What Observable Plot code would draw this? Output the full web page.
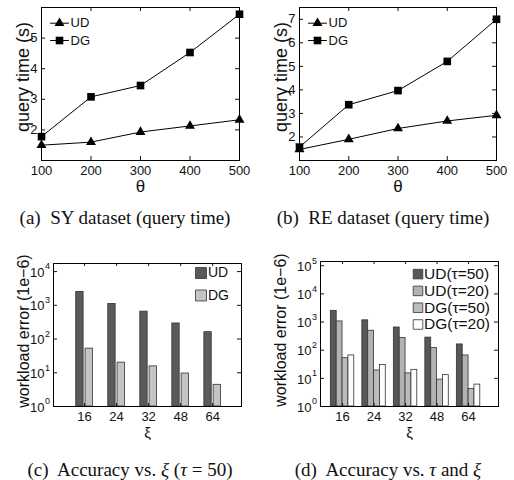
<!DOCTYPE html>
<html><head><meta charset="utf-8">
<script src="https://cdn.jsdelivr.net/npm/d3@7"></script>
<script src="https://cdn.jsdelivr.net/npm/@observablehq/plot@0.6"></script>
<style>
body{margin:0;background:#fff;}
#root{position:relative;width:514px;height:480px;overflow:hidden;background:#fff}
.panel{position:absolute;width:257px}
.cap{position:absolute;font-family:"Liberation Serif","Times New Roman",serif;font-size:19px;line-height:19px;white-space:pre;transform:translateX(-50%);color:#111}
</style></head><body><div id="root"></div>
<script>
// ---- data ----
const theta = [100, 200, 300, 400, 500];
const syUD = [1.50, 1.60, 1.93, 2.13, 2.33];
const syDG = [1.78, 3.08, 3.45, 4.53, 5.78];
const reUD = [1.47, 1.90, 2.36, 2.68, 2.92];
const reDG = [1.57, 3.37, 3.97, 5.21, 7.00];
const xi = ["16", "24", "32", "48", "64"];
const accUD = [2500, 1100, 650, 290, 160];
const accDG = [52, 20, 15.5, 9.5, 4.4];
const udTau50 = [2500, 1150, 640, 280, 160];
const udTau20 = [1050, 490, 270, 120, 65];
const dgTau50 = [52, 19, 15, 9, 4.2];
const dgTau20 = [65, 30, 20, 13, 6];
const lineNames = ["UD", "DG"];
const lineSymbols = ["triangle", "square"];
const namesC = ["UD", "DG"];
const namesD = ["UD(τ=50)", "UD(τ=20)", "DG(τ=50)", "DG(τ=20)"];

const root = document.getElementById("root");
const FONT = "Liberation Sans, Arial, Helvetica, sans-serif";

function place(el, left, top) {
  const d = document.createElement("div");
  d.className = "panel";
  d.style.left = left + "px";
  d.style.top = top + "px";
  d.appendChild(el);
  root.appendChild(d);
}
function caption(html, cx, cy) {
  const d = document.createElement("div");
  d.className = "cap";
  d.style.left = cx + "px";
  d.style.top = (cy - 10) + "px";
  d.innerHTML = html;
  root.appendChild(d);
}
const seg = {draw(ctx, l) { ctx.moveTo(0, 0); ctx.lineTo(0, -l); }};

function linePanel({ud, dg, yDomain, yTicks, mL, mR}) {
  const W = 257, H = 200, mT = 7, mB = 40;
  const fh = H - mT - mB, fw = W - mL - mR;
  const rows = theta.map((t, i) => ({theta: t, UD: ud[i], DG: dg[i]}));
  const legendMarks = lineNames.map((name, k) => {
    const dy = 15.7 + k * 17.3;
    return [
      Plot.vector([name], {frameAnchor: "top-left", dx: 18, dy, length: 18, rotate: 90, anchor: "middle", shape: seg, stroke: "#000", strokeWidth: 1}),
      Plot.dot([name], {frameAnchor: "top-left", dx: 18, dy, symbol: lineSymbols[k], r: k ? 4.3 : 3.7, fill: "#000"}),
      Plot.text([name], {text: d => d, frameAnchor: "top-left", dx: 29, dy, textAnchor: "start", lineAnchor: "middle", fontSize: 13})
    ];
  }).flat();
  return Plot.plot({
    width: W, height: H, marginLeft: mL, marginRight: mR, marginTop: mT, marginBottom: mB,
    style: {fontFamily: FONT, fontSize: "13px", color: "#111", background: "transparent"},
    x: {domain: [100, 500]},
    y: {domain: yDomain},
    marks: [
      Plot.axisX(theta, {tickSize: 0, tickPadding: 5, label: null, fontSize: 13}),
      Plot.axisY(yTicks, {tickSize: 0, tickPadding: 4, label: null, fontSize: 13}),
      Plot.tickX(theta, {x: d => d, insetTop: fh - 4}),
      Plot.tickX(theta, {x: d => d, insetBottom: fh - 4}),
      Plot.tickY(yTicks, {y: d => d, insetRight: fw - 4}),
      Plot.tickY(yTicks, {y: d => d, insetLeft: fw - 4}),
      Plot.line(rows, {x: "theta", y: "UD", stroke: "#000", strokeWidth: 1}),
      Plot.line(rows, {x: "theta", y: "DG", stroke: "#000", strokeWidth: 1}),
      Plot.dot(rows, {x: "theta", y: "UD", symbol: "triangle", r: 3.7, fill: "#000"}),
      Plot.dot(rows, {x: "theta", y: "DG", symbol: "square", r: 4.3, fill: "#000"}),
      Plot.frame({stroke: "#000", strokeWidth: 1}),
      Plot.text(["θ"], {text: d => d, frameAnchor: "bottom", dy: 26, fontSize: 17, lineAnchor: "middle"}),
      Plot.text(["query time (s)"], {text: d => d, frameAnchor: "left", dx: -18, dy: -7, rotate: -90, fontSize: 18, textAnchor: "middle", lineAnchor: "middle"}),
      ...legendMarks
    ]
  });
}

function barPanel({series, names, fills, yDomain, yTicks, mL, mT, mR, xDomain, barW, legend}) {
  const W = 257, H = 200, mB = H - 166;
  const fh = H - mT - mB, fw = W - mL - mR;
  const n = series.length;
  const rows = [];
  series.forEach((s, k) => s.forEach((v, i) => {
    const c = i + 1 + (k - (n - 1) / 2) * legend.step;
    rows.push({x1: c - barW / 2, x2: c + barW / 2, v, k});
  }));
  const idx = xi.map((d, i) => i + 1);
  const legendMarks = names.map((name, k) => [
    Plot.dot([name], {frameAnchor: "top-left", dx: legend.dx, dy: legend.dy + k * legend.gap, symbol: "square", r: legend.r, fill: fills[k], stroke: "#333", strokeWidth: 0.8}),
    Plot.text([name], {text: d => d, frameAnchor: "top-left", dx: legend.dx + legend.tx, dy: legend.dy + k * legend.gap, textAnchor: "start", lineAnchor: "middle", fontSize: legend.fs})
  ]).flat();
  return Plot.plot({
    width: W, height: H, marginLeft: mL, marginRight: mR, marginTop: mT, marginBottom: mB,
    style: {fontFamily: FONT, fontSize: "13px", color: "#111", background: "transparent"},
    x: {domain: xDomain, axis: null},
    y: {type: "log", domain: yDomain, axis: null},
    marks: [
      Plot.rectY(rows, {x1: "x1", x2: "x2", y1: 1, y2: "v", fill: d => fills[d.k], stroke: "#333", strokeWidth: 0.8}),
      Plot.tickX(idx, {x: d => d, insetTop: fh - 3}),
      Plot.tickX(idx, {x: d => d, insetBottom: fh - 3}),
      Plot.tickY(yTicks, {y: d => d, insetRight: fw - 4}),
      Plot.tickY(yTicks, {y: d => d, insetLeft: fw - 4}),
      Plot.frame({stroke: "#000", strokeWidth: 1}),
      Plot.text(xi, {text: d => d, x: (d, i) => i + 1, frameAnchor: "bottom", dy: 10.5, lineAnchor: "middle", fontSize: 13}),
      Plot.text(yTicks, {y: d => d, text: () => "10", frameAnchor: "left", textAnchor: "end", dx: -9, dy: 1, fontSize: 13, lineAnchor: "middle"}),
      Plot.text(yTicks, {y: d => d, text: d => String(Math.round(Math.log10(d))), frameAnchor: "left", textAnchor: "end", dx: -3.5, dy: -5, fontSize: 9, lineAnchor: "middle"}),
      Plot.text(["ξ"], {text: d => d, frameAnchor: "bottom", dy: 27, fontSize: 15, lineAnchor: "middle"}),
      Plot.text(["workload error (1e−6)"], {text: d => d, frameAnchor: "left", dx: -(mL - 23), dy: -4, rotate: -90, fontSize: 16, textAnchor: "middle", lineAnchor: "middle"}),
      ...legendMarks
    ]
  });
}

place(linePanel({ud: syUD, dg: syDG, yDomain: [1, 6], yTicks: [2, 3, 4, 5], mL: 41, mR: 18}), 0, 0);
place(linePanel({ud: reUD, dg: reDG, yDomain: [1, 7.5], yTicks: [2, 3, 4, 5, 6, 7], mL: 42, mR: 18}), 257, 0);
place(barPanel({series: [accUD, accDG], names: namesC, fills: ["#5a5a5a", "#c4c4c4"],
  yDomain: [1, Math.pow(10, 4.24)], yTicks: [1, 10, 100, 1000, 10000], mL: 53, mT: 23, mR: 16,
  xDomain: [0.03, 5.9], barW: 0.23, legend: {step: 0.29, dx: 147.5, dy: 9.5, gap: 22.5, r: 6.2, tx: 7, fs: 14}}), 0, 240);
place(barPanel({series: [udTau50, udTau20, dgTau50, dgTau20], names: namesD, fills: ["#585858", "#b2b2b2", "#bcbcbc", "#fcfcfc"],
  yDomain: [1, Math.pow(10, 5.15)], yTicks: [1, 10, 100, 1000, 10000, 100000], mL: 63, mT: 21, mR: 16,
  xDomain: [0.3, 5.95], barW: 0.186, legend: {step: 0.186, dx: 97.5, dy: 12.6, gap: 16.8, r: 5.4, tx: 6, fs: 15.5}}), 257, 240);

caption("(a)  SY dataset (query time)", 125, 218);
caption("(b)  RE dataset (query time)", 383, 218);
caption("(c)  Accuracy vs. <i>ξ</i> (<i>τ</i> = 50)", 130, 470);
caption("(d)  Accuracy vs. <i>τ</i> and <i>ξ</i>", 388, 470);
</script></body></html>
